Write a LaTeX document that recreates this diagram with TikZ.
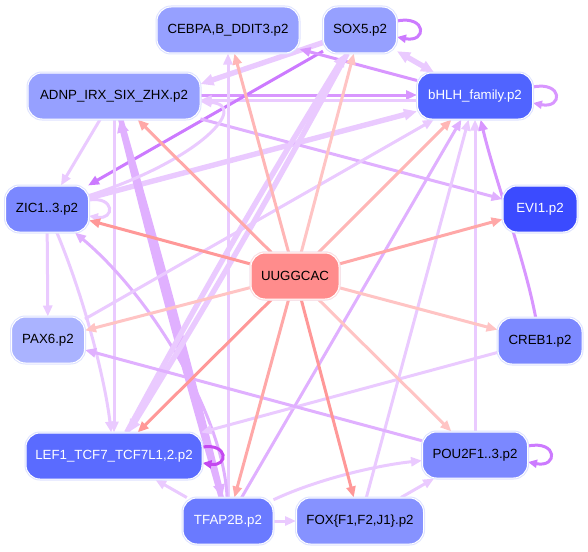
\documentclass[tikz,border=0pt]{standalone}
\usepackage{fontspec}
\setmainfont{Liberation Sans}
\usetikzlibrary{arrows.meta,calc,backgrounds}
\definecolor{cLight}{RGB}{150,160,255}
\definecolor{cBHLH}{RGB}{80,100,255}
\definecolor{cMid}{RGB}{123,136,255}
\definecolor{cEVI}{RGB}{59,75,255}
\definecolor{cRoot}{RGB}{255,140,140}
\definecolor{cPax}{RGB}{170,179,255}
\definecolor{cLef}{RGB}{90,107,255}
\definecolor{cTfap}{RGB}{106,122,255}
\definecolor{cFox}{RGB}{134,146,255}
\definecolor{rimB}{RGB}{222,226,255}
\definecolor{rimR}{RGB}{255,222,222}
% edge colours
\definecolor{lv1}{RGB}{234,202,255}
\definecolor{lv2}{RGB}{224,176,255}
\definecolor{lv3}{RGB}{216,150,255}
\definecolor{lv4}{RGB}{204,122,255}
\definecolor{lv5}{RGB}{196,72,240}
\definecolor{pk1}{RGB}{255,152,152}
\definecolor{pk2}{RGB}{255,168,168}
\definecolor{pk3}{RGB}{255,182,182}
\definecolor{pk4}{RGB}{255,196,196}
\tikzset{
  tf/.style={rectangle, rounded corners=14pt, minimum height=46pt, inner sep=0pt,
    font=\fontsize{13.3}{15}\selectfont, preaction={draw=rimB, line width=3pt},
    draw=white, line width=1pt},
  ed/.style={line width=3pt, -{Triangle[length=11pt,width=9pt]}},
  edthick/.style={line width=5.4pt, -{Triangle[length=13pt,width=11pt]}},
  selfloop/.style={line width=3pt, -{Triangle[length=9pt,width=8pt]}},
}
\begin{document}
\begin{tikzpicture}[x=1pt,y=-1pt]
\useasboundingbox (0,0) rectangle (588,551);
\node[tf, fill=cLight, minimum width=142pt] (CEBPA) at (228,30) {CEBPA,B\_DDIT3.p2};
\node[tf, fill=cLight, minimum width=73pt] (SOX5) at (360,30) {SOX5.p2};
\node[tf, fill=cLight, minimum width=172pt] (ADNP) at (114,96) {ADNP\_IRX\_SIX\_ZHX.p2};
\node[tf, fill=cBHLH, text=white, minimum width=115pt] (bHLH) at (475,96) {bHLH\_family.p2};
\node[tf, fill=cMid, minimum width=83pt] (ZIC) at (47,209) {ZIC1..3.p2};
\node[tf, fill=cEVI, text=white, minimum width=74pt] (EVI1) at (540,209) {EVI1.p2};
\node[tf, fill=cRoot, minimum width=88pt, preaction={draw=rimR, line width=3pt}] (UUGG) at (295,276) {UUGGCAC};
\node[tf, fill=cPax, minimum width=73pt] (PAX6) at (48,340) {PAX6.p2};
\node[tf, fill=cMid, minimum width=84pt] (CREB1) at (540,341) {CREB1.p2};
\node[tf, fill=cLef, text=white, minimum width=176pt] (LEF1) at (114,456) {LEF1\_TCF7\_TCF7L1,2.p2};
\node[tf, fill=cMid, minimum width=105pt] (POU2F) at (475,455) {POU2F1..3.p2};
\node[tf, fill=cTfap, text=white, minimum width=90pt] (TFAP2B) at (228,521) {TFAP2B.p2};
\node[tf, fill=cFox, minimum width=127pt] (FOX) at (360,521) {FOX\{F1,F2,J1\}.p2};

\begin{scope}[on background layer]
% lavender edges
\draw[edthick, lv1] (SOX5) -- ([yshift=12pt]ADNP.east);
\draw[ed, lv3] ([yshift=1pt]ADNP.east) -- ([yshift=1pt]bHLH.west);
\draw[ed, lv1] ([yshift=-4pt]bHLH.west) -- ([yshift=-4pt]ADNP.east);
\draw[ed, lv4] (SOX5) -- (ZIC);
\draw[edthick, lv1, {Triangle[length=13pt,width=11pt]}-{Triangle[length=13pt,width=11pt]}] (SOX5) -- (bHLH);
\draw[ed, lv3] (bHLH) -- (CEBPA);
\draw[edthick, lv1] (ZIC) -- (bHLH);
\draw[ed, lv2] (ADNP) -- (EVI1);
\draw[ed, lv1] (ADNP) -- (ZIC);
\draw[ed, lv1] (ADNP) -- (LEF1);
\draw[edthick, lv2] (TFAP2B) to[bend left=1] (ADNP);
\draw[edthick, lv2] (ADNP) to[bend left=1] (TFAP2B);
\draw[ed, lv1] (TFAP2B) -- (CEBPA);
\draw[ed, lv1] (ZIC) -- (PAX6);
\draw[ed, lv1] (ZIC) .. controls (85,300) and (105,380) .. (LEF1);
\draw[ed, lv2] (TFAP2B) .. controls (224,420) and (155,300) .. (ZIC);
\draw[ed, lv1] (ZIC) .. controls (200,160) and (250,105) .. (ADNP);
\draw[edthick, lv1] (SOX5) to[bend left=1.5] (LEF1);
\draw[edthick, lv1] (LEF1) to[bend left=1.5] (SOX5);
\draw[ed, lv1] (PAX6) -- (bHLH);
\draw[ed, lv2] (TFAP2B) -- (bHLH);
\draw[ed, lv1] (FOX) -- (bHLH);
\draw[ed, lv1] (POU2F) -- (bHLH);
\draw[ed, lv3] (CREB1) .. controls (525,260) and (495,180) .. (bHLH);
\draw[ed, lv1] (CREB1) -- (LEF1);
\draw[ed, lv2] (POU2F) -- (PAX6);
\draw[ed, lv1] (TFAP2B) .. controls (320,478) and (380,465) .. (POU2F);
\draw[ed, lv1] (FOX) -- (POU2F);
\draw[ed, lv1] (TFAP2B) -- (FOX);
\draw[ed, lv1] (TFAP2B) -- (LEF1);
% self loops
\draw[selfloop, lv4] ($(SOX5.east)+(0,-9)$) .. controls +(30,-6) and +(30,6) .. ($(SOX5.east)+(0,7)$);
\draw[selfloop, lv3] ($(bHLH.east)+(0,-9)$) .. controls +(30,-6) and +(30,6) .. ($(bHLH.east)+(0,7)$);
\draw[selfloop, lv4] ($(POU2F.east)+(0,-9)$) .. controls +(30,-6) and +(30,6) .. ($(POU2F.east)+(0,7)$);
\draw[selfloop, lv5] ($(LEF1.east)+(0,-9)$) .. controls +(26,-4) and +(26,4) .. ($(LEF1.east)+(0,7)$);
\draw[selfloop, lv1] ($(ZIC.east)+(0,-9)$) .. controls +(26,-4) and +(26,4) .. ($(ZIC.east)+(0,7)$);
% pink edges from root
\draw[ed, pk1] (UUGG) -- (ZIC);
\draw[ed, pk2] (UUGG) -- (ADNP);
\draw[ed, pk3] (UUGG) -- (CEBPA);
\draw[ed, pk4] (UUGG) -- (SOX5);
\draw[ed, pk3] (UUGG) -- (bHLH);
\draw[ed, pk2] (UUGG) -- (EVI1);
\draw[ed, pk4] (UUGG) -- (CREB1);
\draw[ed, pk4] (UUGG) -- (POU2F);
\draw[ed, pk1] (UUGG) -- (FOX);
\draw[ed, pk2] (UUGG) -- (TFAP2B);
\draw[ed, pk1] (UUGG) -- (LEF1);
\draw[ed, pk4] (UUGG) -- (PAX6);
\end{scope}
\end{tikzpicture}
\end{document}
